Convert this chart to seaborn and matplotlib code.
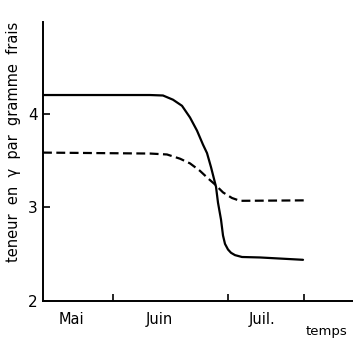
import matplotlib
matplotlib.use("Agg")
import matplotlib.pyplot as plt
import seaborn as sns
import pandas as pd

# --- data (time axis in arbitrary chart units, values in γ per gram) ---
solid_t = [0, 107, 120, 130, 139, 147, 154, 160, 164, 168, 173, 175, 178, 180, 182, 185, 188, 192, 199,
           217, 260]
solid_v = [4.20, 4.20, 4.195, 4.15, 4.085, 3.96, 3.82, 3.67, 3.58, 3.43, 3.22, 3.05, 2.87, 2.70, 2.61,
           2.55, 2.515, 2.49, 2.47, 2.465, 2.44]
dashed_t = [0, 107, 124, 137, 147, 157, 165, 172, 180, 189, 197, 264]
dashed_v = [3.585, 3.575, 3.565, 3.52, 3.47, 3.39, 3.31, 3.245, 3.16, 3.10, 3.07, 3.075]

month_labels = ["Mai", "Juin", "Juil."]
month_label_pos = [28, 116, 219]
month_tick_pos = [70, 185, 261]
y_ticks = [2, 3, 4]

df = pd.concat([
    pd.DataFrame({"t": solid_t, "v": solid_v, "serie": "a"}),
    pd.DataFrame({"t": dashed_t, "v": dashed_v, "serie": "b"}),
])

sns.set_style("white")
plt.rcParams["font.family"] = ["DejaVu Sans"]
plt.rcParams["text.color"] = "black"
plt.rcParams["axes.labelcolor"] = "black"
plt.rcParams["xtick.color"] = "black"
plt.rcParams["ytick.color"] = "black"

fig = plt.figure(figsize=(3.53, 3.41), dpi=100)
ax = fig.add_axes([43 / 353, 1 - 301 / 341, 1 - 43 / 353, (301 - 22) / 341])

sns.lineplot(data=df, x="t", y="v", style="serie", dashes={"a": "", "b": (4, 2)},
             color="black", linewidth=1.6, legend=False, ax=ax, sort=False,
             estimator=None)

ax.set_xlim(0, 310)
ax.set_ylim(2, 4.98)
sns.despine(ax=ax)
for s in ["left", "bottom"]:
    ax.spines[s].set_color("black")
    ax.spines[s].set_linewidth(1.4)

ax.set_yticks(y_ticks)
ax.set_yticklabels([str(v) for v in y_ticks], fontsize=11)
ax.set_xticks(month_tick_pos)
ax.set_xticklabels([])
ax.set_xticks(month_label_pos, minor=True)
ax.set_xticklabels(month_labels, minor=True, fontsize=10.5)
ax.tick_params(axis="both", which="major", direction="in", length=5, width=1.2,
               color="black", labelcolor="black", pad=3, bottom=True, left=True)
ax.tick_params(axis="x", which="minor", length=0, pad=8, bottom=True, labelcolor="black")
ax.tick_params(axis="y", pad=4)

ax.set_xlabel("")
ax.set_ylabel("teneur  en  γ  par  gramme  frais", fontsize=10.5, color="black")
ax.yaxis.set_label_coords(-0.071, 0.57)

fig.text(326 / 353, 1 - 332 / 341, "temps", fontsize=9.5, ha="center", va="center",
         color="black")

fig.savefig("out.png", dpi=100)
